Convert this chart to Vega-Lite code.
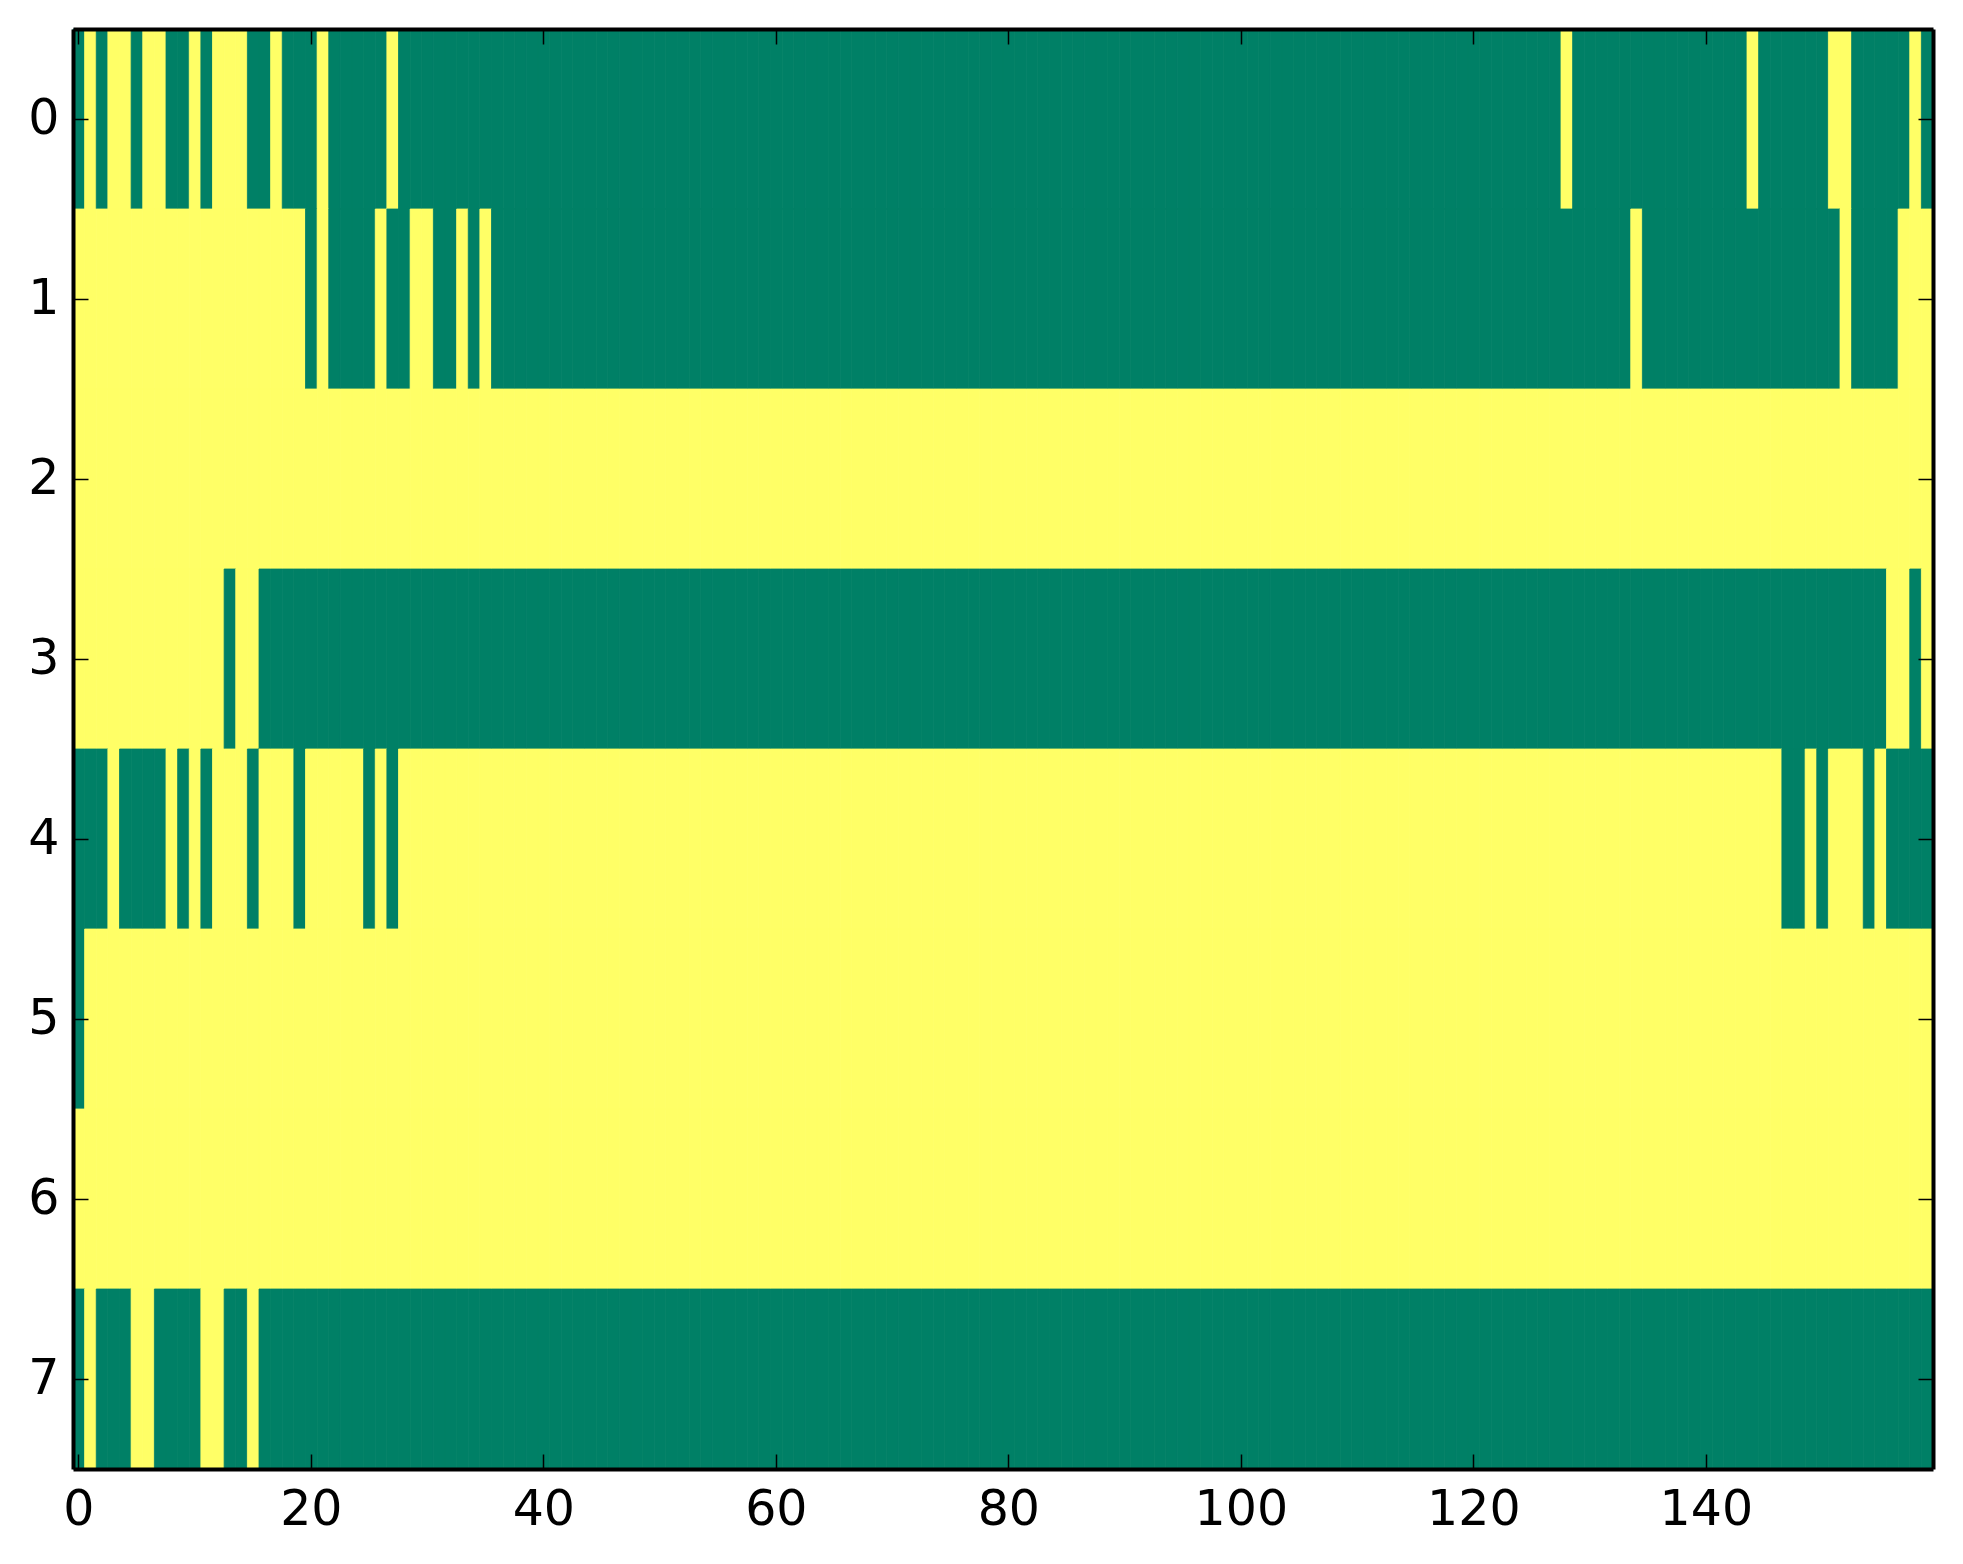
{"$schema":"https://vega.github.io/schema/vega-lite/v6.json","width":1860,"height":1440,"autosize":{"type":"none"},"padding":{"left":73,"top":29,"right":30,"bottom":95},"background":"white","config":{"view":{"stroke":null},"axis":{"grid":false,"labelFont":"DejaVu Sans","labelFontSize":49,"labelColor":"black","title":null}},"data":{"values":[
{"r":0,"c":0,"v":0},{"r":0,"c":1,"v":1},{"r":0,"c":2,"v":0},{"r":0,"c":3,"v":1},{"r":0,"c":4,"v":1},{"r":0,"c":5,"v":0},{"r":0,"c":6,"v":1},{"r":0,"c":7,"v":1},{"r":0,"c":8,"v":0},{"r":0,"c":9,"v":0},
{"r":0,"c":10,"v":1},{"r":0,"c":11,"v":0},{"r":0,"c":12,"v":1},{"r":0,"c":13,"v":1},{"r":0,"c":14,"v":1},{"r":0,"c":15,"v":0},{"r":0,"c":16,"v":0},{"r":0,"c":17,"v":1},{"r":0,"c":18,"v":0},{"r":0,"c":19,"v":0},
{"r":0,"c":20,"v":0},{"r":0,"c":21,"v":1},{"r":0,"c":22,"v":0},{"r":0,"c":23,"v":0},{"r":0,"c":24,"v":0},{"r":0,"c":25,"v":0},{"r":0,"c":26,"v":0},{"r":0,"c":27,"v":1},{"r":0,"c":28,"v":0},{"r":0,"c":29,"v":0},
{"r":0,"c":30,"v":0},{"r":0,"c":31,"v":0},{"r":0,"c":32,"v":0},{"r":0,"c":33,"v":0},{"r":0,"c":34,"v":0},{"r":0,"c":35,"v":0},{"r":0,"c":36,"v":0},{"r":0,"c":37,"v":0},{"r":0,"c":38,"v":0},{"r":0,"c":39,"v":0},
{"r":0,"c":40,"v":0},{"r":0,"c":41,"v":0},{"r":0,"c":42,"v":0},{"r":0,"c":43,"v":0},{"r":0,"c":44,"v":0},{"r":0,"c":45,"v":0},{"r":0,"c":46,"v":0},{"r":0,"c":47,"v":0},{"r":0,"c":48,"v":0},{"r":0,"c":49,"v":0},
{"r":0,"c":50,"v":0},{"r":0,"c":51,"v":0},{"r":0,"c":52,"v":0},{"r":0,"c":53,"v":0},{"r":0,"c":54,"v":0},{"r":0,"c":55,"v":0},{"r":0,"c":56,"v":0},{"r":0,"c":57,"v":0},{"r":0,"c":58,"v":0},{"r":0,"c":59,"v":0},
{"r":0,"c":60,"v":0},{"r":0,"c":61,"v":0},{"r":0,"c":62,"v":0},{"r":0,"c":63,"v":0},{"r":0,"c":64,"v":0},{"r":0,"c":65,"v":0},{"r":0,"c":66,"v":0},{"r":0,"c":67,"v":0},{"r":0,"c":68,"v":0},{"r":0,"c":69,"v":0},
{"r":0,"c":70,"v":0},{"r":0,"c":71,"v":0},{"r":0,"c":72,"v":0},{"r":0,"c":73,"v":0},{"r":0,"c":74,"v":0},{"r":0,"c":75,"v":0},{"r":0,"c":76,"v":0},{"r":0,"c":77,"v":0},{"r":0,"c":78,"v":0},{"r":0,"c":79,"v":0},
{"r":0,"c":80,"v":0},{"r":0,"c":81,"v":0},{"r":0,"c":82,"v":0},{"r":0,"c":83,"v":0},{"r":0,"c":84,"v":0},{"r":0,"c":85,"v":0},{"r":0,"c":86,"v":0},{"r":0,"c":87,"v":0},{"r":0,"c":88,"v":0},{"r":0,"c":89,"v":0},
{"r":0,"c":90,"v":0},{"r":0,"c":91,"v":0},{"r":0,"c":92,"v":0},{"r":0,"c":93,"v":0},{"r":0,"c":94,"v":0},{"r":0,"c":95,"v":0},{"r":0,"c":96,"v":0},{"r":0,"c":97,"v":0},{"r":0,"c":98,"v":0},{"r":0,"c":99,"v":0},
{"r":0,"c":100,"v":0},{"r":0,"c":101,"v":0},{"r":0,"c":102,"v":0},{"r":0,"c":103,"v":0},{"r":0,"c":104,"v":0},{"r":0,"c":105,"v":0},{"r":0,"c":106,"v":0},{"r":0,"c":107,"v":0},{"r":0,"c":108,"v":0},{"r":0,"c":109,"v":0},
{"r":0,"c":110,"v":0},{"r":0,"c":111,"v":0},{"r":0,"c":112,"v":0},{"r":0,"c":113,"v":0},{"r":0,"c":114,"v":0},{"r":0,"c":115,"v":0},{"r":0,"c":116,"v":0},{"r":0,"c":117,"v":0},{"r":0,"c":118,"v":0},{"r":0,"c":119,"v":0},
{"r":0,"c":120,"v":0},{"r":0,"c":121,"v":0},{"r":0,"c":122,"v":0},{"r":0,"c":123,"v":0},{"r":0,"c":124,"v":0},{"r":0,"c":125,"v":0},{"r":0,"c":126,"v":0},{"r":0,"c":127,"v":0},{"r":0,"c":128,"v":1},{"r":0,"c":129,"v":0},
{"r":0,"c":130,"v":0},{"r":0,"c":131,"v":0},{"r":0,"c":132,"v":0},{"r":0,"c":133,"v":0},{"r":0,"c":134,"v":0},{"r":0,"c":135,"v":0},{"r":0,"c":136,"v":0},{"r":0,"c":137,"v":0},{"r":0,"c":138,"v":0},{"r":0,"c":139,"v":0},
{"r":0,"c":140,"v":0},{"r":0,"c":141,"v":0},{"r":0,"c":142,"v":0},{"r":0,"c":143,"v":0},{"r":0,"c":144,"v":1},{"r":0,"c":145,"v":0},{"r":0,"c":146,"v":0},{"r":0,"c":147,"v":0},{"r":0,"c":148,"v":0},{"r":0,"c":149,"v":0},
{"r":0,"c":150,"v":0},{"r":0,"c":151,"v":1},{"r":0,"c":152,"v":1},{"r":0,"c":153,"v":0},{"r":0,"c":154,"v":0},{"r":0,"c":155,"v":0},{"r":0,"c":156,"v":0},{"r":0,"c":157,"v":0},{"r":0,"c":158,"v":1},{"r":0,"c":159,"v":0},
{"r":1,"c":0,"v":1},{"r":1,"c":1,"v":1},{"r":1,"c":2,"v":1},{"r":1,"c":3,"v":1},{"r":1,"c":4,"v":1},{"r":1,"c":5,"v":1},{"r":1,"c":6,"v":1},{"r":1,"c":7,"v":1},{"r":1,"c":8,"v":1},{"r":1,"c":9,"v":1},
{"r":1,"c":10,"v":1},{"r":1,"c":11,"v":1},{"r":1,"c":12,"v":1},{"r":1,"c":13,"v":1},{"r":1,"c":14,"v":1},{"r":1,"c":15,"v":1},{"r":1,"c":16,"v":1},{"r":1,"c":17,"v":1},{"r":1,"c":18,"v":1},{"r":1,"c":19,"v":1},
{"r":1,"c":20,"v":0},{"r":1,"c":21,"v":1},{"r":1,"c":22,"v":0},{"r":1,"c":23,"v":0},{"r":1,"c":24,"v":0},{"r":1,"c":25,"v":0},{"r":1,"c":26,"v":1},{"r":1,"c":27,"v":0},{"r":1,"c":28,"v":0},{"r":1,"c":29,"v":1},
{"r":1,"c":30,"v":1},{"r":1,"c":31,"v":0},{"r":1,"c":32,"v":0},{"r":1,"c":33,"v":1},{"r":1,"c":34,"v":0},{"r":1,"c":35,"v":1},{"r":1,"c":36,"v":0},{"r":1,"c":37,"v":0},{"r":1,"c":38,"v":0},{"r":1,"c":39,"v":0},
{"r":1,"c":40,"v":0},{"r":1,"c":41,"v":0},{"r":1,"c":42,"v":0},{"r":1,"c":43,"v":0},{"r":1,"c":44,"v":0},{"r":1,"c":45,"v":0},{"r":1,"c":46,"v":0},{"r":1,"c":47,"v":0},{"r":1,"c":48,"v":0},{"r":1,"c":49,"v":0},
{"r":1,"c":50,"v":0},{"r":1,"c":51,"v":0},{"r":1,"c":52,"v":0},{"r":1,"c":53,"v":0},{"r":1,"c":54,"v":0},{"r":1,"c":55,"v":0},{"r":1,"c":56,"v":0},{"r":1,"c":57,"v":0},{"r":1,"c":58,"v":0},{"r":1,"c":59,"v":0},
{"r":1,"c":60,"v":0},{"r":1,"c":61,"v":0},{"r":1,"c":62,"v":0},{"r":1,"c":63,"v":0},{"r":1,"c":64,"v":0},{"r":1,"c":65,"v":0},{"r":1,"c":66,"v":0},{"r":1,"c":67,"v":0},{"r":1,"c":68,"v":0},{"r":1,"c":69,"v":0},
{"r":1,"c":70,"v":0},{"r":1,"c":71,"v":0},{"r":1,"c":72,"v":0},{"r":1,"c":73,"v":0},{"r":1,"c":74,"v":0},{"r":1,"c":75,"v":0},{"r":1,"c":76,"v":0},{"r":1,"c":77,"v":0},{"r":1,"c":78,"v":0},{"r":1,"c":79,"v":0},
{"r":1,"c":80,"v":0},{"r":1,"c":81,"v":0},{"r":1,"c":82,"v":0},{"r":1,"c":83,"v":0},{"r":1,"c":84,"v":0},{"r":1,"c":85,"v":0},{"r":1,"c":86,"v":0},{"r":1,"c":87,"v":0},{"r":1,"c":88,"v":0},{"r":1,"c":89,"v":0},
{"r":1,"c":90,"v":0},{"r":1,"c":91,"v":0},{"r":1,"c":92,"v":0},{"r":1,"c":93,"v":0},{"r":1,"c":94,"v":0},{"r":1,"c":95,"v":0},{"r":1,"c":96,"v":0},{"r":1,"c":97,"v":0},{"r":1,"c":98,"v":0},{"r":1,"c":99,"v":0},
{"r":1,"c":100,"v":0},{"r":1,"c":101,"v":0},{"r":1,"c":102,"v":0},{"r":1,"c":103,"v":0},{"r":1,"c":104,"v":0},{"r":1,"c":105,"v":0},{"r":1,"c":106,"v":0},{"r":1,"c":107,"v":0},{"r":1,"c":108,"v":0},{"r":1,"c":109,"v":0},
{"r":1,"c":110,"v":0},{"r":1,"c":111,"v":0},{"r":1,"c":112,"v":0},{"r":1,"c":113,"v":0},{"r":1,"c":114,"v":0},{"r":1,"c":115,"v":0},{"r":1,"c":116,"v":0},{"r":1,"c":117,"v":0},{"r":1,"c":118,"v":0},{"r":1,"c":119,"v":0},
{"r":1,"c":120,"v":0},{"r":1,"c":121,"v":0},{"r":1,"c":122,"v":0},{"r":1,"c":123,"v":0},{"r":1,"c":124,"v":0},{"r":1,"c":125,"v":0},{"r":1,"c":126,"v":0},{"r":1,"c":127,"v":0},{"r":1,"c":128,"v":0},{"r":1,"c":129,"v":0},
{"r":1,"c":130,"v":0},{"r":1,"c":131,"v":0},{"r":1,"c":132,"v":0},{"r":1,"c":133,"v":0},{"r":1,"c":134,"v":1},{"r":1,"c":135,"v":0},{"r":1,"c":136,"v":0},{"r":1,"c":137,"v":0},{"r":1,"c":138,"v":0},{"r":1,"c":139,"v":0},
{"r":1,"c":140,"v":0},{"r":1,"c":141,"v":0},{"r":1,"c":142,"v":0},{"r":1,"c":143,"v":0},{"r":1,"c":144,"v":0},{"r":1,"c":145,"v":0},{"r":1,"c":146,"v":0},{"r":1,"c":147,"v":0},{"r":1,"c":148,"v":0},{"r":1,"c":149,"v":0},
{"r":1,"c":150,"v":0},{"r":1,"c":151,"v":0},{"r":1,"c":152,"v":1},{"r":1,"c":153,"v":0},{"r":1,"c":154,"v":0},{"r":1,"c":155,"v":0},{"r":1,"c":156,"v":0},{"r":1,"c":157,"v":1},{"r":1,"c":158,"v":1},{"r":1,"c":159,"v":1},
{"r":2,"c":0,"v":1},{"r":2,"c":1,"v":1},{"r":2,"c":2,"v":1},{"r":2,"c":3,"v":1},{"r":2,"c":4,"v":1},{"r":2,"c":5,"v":1},{"r":2,"c":6,"v":1},{"r":2,"c":7,"v":1},{"r":2,"c":8,"v":1},{"r":2,"c":9,"v":1},
{"r":2,"c":10,"v":1},{"r":2,"c":11,"v":1},{"r":2,"c":12,"v":1},{"r":2,"c":13,"v":1},{"r":2,"c":14,"v":1},{"r":2,"c":15,"v":1},{"r":2,"c":16,"v":1},{"r":2,"c":17,"v":1},{"r":2,"c":18,"v":1},{"r":2,"c":19,"v":1},
{"r":2,"c":20,"v":1},{"r":2,"c":21,"v":1},{"r":2,"c":22,"v":1},{"r":2,"c":23,"v":1},{"r":2,"c":24,"v":1},{"r":2,"c":25,"v":1},{"r":2,"c":26,"v":1},{"r":2,"c":27,"v":1},{"r":2,"c":28,"v":1},{"r":2,"c":29,"v":1},
{"r":2,"c":30,"v":1},{"r":2,"c":31,"v":1},{"r":2,"c":32,"v":1},{"r":2,"c":33,"v":1},{"r":2,"c":34,"v":1},{"r":2,"c":35,"v":1},{"r":2,"c":36,"v":1},{"r":2,"c":37,"v":1},{"r":2,"c":38,"v":1},{"r":2,"c":39,"v":1},
{"r":2,"c":40,"v":1},{"r":2,"c":41,"v":1},{"r":2,"c":42,"v":1},{"r":2,"c":43,"v":1},{"r":2,"c":44,"v":1},{"r":2,"c":45,"v":1},{"r":2,"c":46,"v":1},{"r":2,"c":47,"v":1},{"r":2,"c":48,"v":1},{"r":2,"c":49,"v":1},
{"r":2,"c":50,"v":1},{"r":2,"c":51,"v":1},{"r":2,"c":52,"v":1},{"r":2,"c":53,"v":1},{"r":2,"c":54,"v":1},{"r":2,"c":55,"v":1},{"r":2,"c":56,"v":1},{"r":2,"c":57,"v":1},{"r":2,"c":58,"v":1},{"r":2,"c":59,"v":1},
{"r":2,"c":60,"v":1},{"r":2,"c":61,"v":1},{"r":2,"c":62,"v":1},{"r":2,"c":63,"v":1},{"r":2,"c":64,"v":1},{"r":2,"c":65,"v":1},{"r":2,"c":66,"v":1},{"r":2,"c":67,"v":1},{"r":2,"c":68,"v":1},{"r":2,"c":69,"v":1},
{"r":2,"c":70,"v":1},{"r":2,"c":71,"v":1},{"r":2,"c":72,"v":1},{"r":2,"c":73,"v":1},{"r":2,"c":74,"v":1},{"r":2,"c":75,"v":1},{"r":2,"c":76,"v":1},{"r":2,"c":77,"v":1},{"r":2,"c":78,"v":1},{"r":2,"c":79,"v":1},
{"r":2,"c":80,"v":1},{"r":2,"c":81,"v":1},{"r":2,"c":82,"v":1},{"r":2,"c":83,"v":1},{"r":2,"c":84,"v":1},{"r":2,"c":85,"v":1},{"r":2,"c":86,"v":1},{"r":2,"c":87,"v":1},{"r":2,"c":88,"v":1},{"r":2,"c":89,"v":1},
{"r":2,"c":90,"v":1},{"r":2,"c":91,"v":1},{"r":2,"c":92,"v":1},{"r":2,"c":93,"v":1},{"r":2,"c":94,"v":1},{"r":2,"c":95,"v":1},{"r":2,"c":96,"v":1},{"r":2,"c":97,"v":1},{"r":2,"c":98,"v":1},{"r":2,"c":99,"v":1},
{"r":2,"c":100,"v":1},{"r":2,"c":101,"v":1},{"r":2,"c":102,"v":1},{"r":2,"c":103,"v":1},{"r":2,"c":104,"v":1},{"r":2,"c":105,"v":1},{"r":2,"c":106,"v":1},{"r":2,"c":107,"v":1},{"r":2,"c":108,"v":1},{"r":2,"c":109,"v":1},
{"r":2,"c":110,"v":1},{"r":2,"c":111,"v":1},{"r":2,"c":112,"v":1},{"r":2,"c":113,"v":1},{"r":2,"c":114,"v":1},{"r":2,"c":115,"v":1},{"r":2,"c":116,"v":1},{"r":2,"c":117,"v":1},{"r":2,"c":118,"v":1},{"r":2,"c":119,"v":1},
{"r":2,"c":120,"v":1},{"r":2,"c":121,"v":1},{"r":2,"c":122,"v":1},{"r":2,"c":123,"v":1},{"r":2,"c":124,"v":1},{"r":2,"c":125,"v":1},{"r":2,"c":126,"v":1},{"r":2,"c":127,"v":1},{"r":2,"c":128,"v":1},{"r":2,"c":129,"v":1},
{"r":2,"c":130,"v":1},{"r":2,"c":131,"v":1},{"r":2,"c":132,"v":1},{"r":2,"c":133,"v":1},{"r":2,"c":134,"v":1},{"r":2,"c":135,"v":1},{"r":2,"c":136,"v":1},{"r":2,"c":137,"v":1},{"r":2,"c":138,"v":1},{"r":2,"c":139,"v":1},
{"r":2,"c":140,"v":1},{"r":2,"c":141,"v":1},{"r":2,"c":142,"v":1},{"r":2,"c":143,"v":1},{"r":2,"c":144,"v":1},{"r":2,"c":145,"v":1},{"r":2,"c":146,"v":1},{"r":2,"c":147,"v":1},{"r":2,"c":148,"v":1},{"r":2,"c":149,"v":1},
{"r":2,"c":150,"v":1},{"r":2,"c":151,"v":1},{"r":2,"c":152,"v":1},{"r":2,"c":153,"v":1},{"r":2,"c":154,"v":1},{"r":2,"c":155,"v":1},{"r":2,"c":156,"v":1},{"r":2,"c":157,"v":1},{"r":2,"c":158,"v":1},{"r":2,"c":159,"v":1},
{"r":3,"c":0,"v":1},{"r":3,"c":1,"v":1},{"r":3,"c":2,"v":1},{"r":3,"c":3,"v":1},{"r":3,"c":4,"v":1},{"r":3,"c":5,"v":1},{"r":3,"c":6,"v":1},{"r":3,"c":7,"v":1},{"r":3,"c":8,"v":1},{"r":3,"c":9,"v":1},
{"r":3,"c":10,"v":1},{"r":3,"c":11,"v":1},{"r":3,"c":12,"v":1},{"r":3,"c":13,"v":0},{"r":3,"c":14,"v":1},{"r":3,"c":15,"v":1},{"r":3,"c":16,"v":0},{"r":3,"c":17,"v":0},{"r":3,"c":18,"v":0},{"r":3,"c":19,"v":0},
{"r":3,"c":20,"v":0},{"r":3,"c":21,"v":0},{"r":3,"c":22,"v":0},{"r":3,"c":23,"v":0},{"r":3,"c":24,"v":0},{"r":3,"c":25,"v":0},{"r":3,"c":26,"v":0},{"r":3,"c":27,"v":0},{"r":3,"c":28,"v":0},{"r":3,"c":29,"v":0},
{"r":3,"c":30,"v":0},{"r":3,"c":31,"v":0},{"r":3,"c":32,"v":0},{"r":3,"c":33,"v":0},{"r":3,"c":34,"v":0},{"r":3,"c":35,"v":0},{"r":3,"c":36,"v":0},{"r":3,"c":37,"v":0},{"r":3,"c":38,"v":0},{"r":3,"c":39,"v":0},
{"r":3,"c":40,"v":0},{"r":3,"c":41,"v":0},{"r":3,"c":42,"v":0},{"r":3,"c":43,"v":0},{"r":3,"c":44,"v":0},{"r":3,"c":45,"v":0},{"r":3,"c":46,"v":0},{"r":3,"c":47,"v":0},{"r":3,"c":48,"v":0},{"r":3,"c":49,"v":0},
{"r":3,"c":50,"v":0},{"r":3,"c":51,"v":0},{"r":3,"c":52,"v":0},{"r":3,"c":53,"v":0},{"r":3,"c":54,"v":0},{"r":3,"c":55,"v":0},{"r":3,"c":56,"v":0},{"r":3,"c":57,"v":0},{"r":3,"c":58,"v":0},{"r":3,"c":59,"v":0},
{"r":3,"c":60,"v":0},{"r":3,"c":61,"v":0},{"r":3,"c":62,"v":0},{"r":3,"c":63,"v":0},{"r":3,"c":64,"v":0},{"r":3,"c":65,"v":0},{"r":3,"c":66,"v":0},{"r":3,"c":67,"v":0},{"r":3,"c":68,"v":0},{"r":3,"c":69,"v":0},
{"r":3,"c":70,"v":0},{"r":3,"c":71,"v":0},{"r":3,"c":72,"v":0},{"r":3,"c":73,"v":0},{"r":3,"c":74,"v":0},{"r":3,"c":75,"v":0},{"r":3,"c":76,"v":0},{"r":3,"c":77,"v":0},{"r":3,"c":78,"v":0},{"r":3,"c":79,"v":0},
{"r":3,"c":80,"v":0},{"r":3,"c":81,"v":0},{"r":3,"c":82,"v":0},{"r":3,"c":83,"v":0},{"r":3,"c":84,"v":0},{"r":3,"c":85,"v":0},{"r":3,"c":86,"v":0},{"r":3,"c":87,"v":0},{"r":3,"c":88,"v":0},{"r":3,"c":89,"v":0},
{"r":3,"c":90,"v":0},{"r":3,"c":91,"v":0},{"r":3,"c":92,"v":0},{"r":3,"c":93,"v":0},{"r":3,"c":94,"v":0},{"r":3,"c":95,"v":0},{"r":3,"c":96,"v":0},{"r":3,"c":97,"v":0},{"r":3,"c":98,"v":0},{"r":3,"c":99,"v":0},
{"r":3,"c":100,"v":0},{"r":3,"c":101,"v":0},{"r":3,"c":102,"v":0},{"r":3,"c":103,"v":0},{"r":3,"c":104,"v":0},{"r":3,"c":105,"v":0},{"r":3,"c":106,"v":0},{"r":3,"c":107,"v":0},{"r":3,"c":108,"v":0},{"r":3,"c":109,"v":0},
{"r":3,"c":110,"v":0},{"r":3,"c":111,"v":0},{"r":3,"c":112,"v":0},{"r":3,"c":113,"v":0},{"r":3,"c":114,"v":0},{"r":3,"c":115,"v":0},{"r":3,"c":116,"v":0},{"r":3,"c":117,"v":0},{"r":3,"c":118,"v":0},{"r":3,"c":119,"v":0},
{"r":3,"c":120,"v":0},{"r":3,"c":121,"v":0},{"r":3,"c":122,"v":0},{"r":3,"c":123,"v":0},{"r":3,"c":124,"v":0},{"r":3,"c":125,"v":0},{"r":3,"c":126,"v":0},{"r":3,"c":127,"v":0},{"r":3,"c":128,"v":0},{"r":3,"c":129,"v":0},
{"r":3,"c":130,"v":0},{"r":3,"c":131,"v":0},{"r":3,"c":132,"v":0},{"r":3,"c":133,"v":0},{"r":3,"c":134,"v":0},{"r":3,"c":135,"v":0},{"r":3,"c":136,"v":0},{"r":3,"c":137,"v":0},{"r":3,"c":138,"v":0},{"r":3,"c":139,"v":0},
{"r":3,"c":140,"v":0},{"r":3,"c":141,"v":0},{"r":3,"c":142,"v":0},{"r":3,"c":143,"v":0},{"r":3,"c":144,"v":0},{"r":3,"c":145,"v":0},{"r":3,"c":146,"v":0},{"r":3,"c":147,"v":0},{"r":3,"c":148,"v":0},{"r":3,"c":149,"v":0},
{"r":3,"c":150,"v":0},{"r":3,"c":151,"v":0},{"r":3,"c":152,"v":0},{"r":3,"c":153,"v":0},{"r":3,"c":154,"v":0},{"r":3,"c":155,"v":0},{"r":3,"c":156,"v":1},{"r":3,"c":157,"v":1},{"r":3,"c":158,"v":0},{"r":3,"c":159,"v":1},
{"r":4,"c":0,"v":0},{"r":4,"c":1,"v":0},{"r":4,"c":2,"v":0},{"r":4,"c":3,"v":1},{"r":4,"c":4,"v":0},{"r":4,"c":5,"v":0},{"r":4,"c":6,"v":0},{"r":4,"c":7,"v":0},{"r":4,"c":8,"v":1},{"r":4,"c":9,"v":0},
{"r":4,"c":10,"v":1},{"r":4,"c":11,"v":0},{"r":4,"c":12,"v":1},{"r":4,"c":13,"v":1},{"r":4,"c":14,"v":1},{"r":4,"c":15,"v":0},{"r":4,"c":16,"v":1},{"r":4,"c":17,"v":1},{"r":4,"c":18,"v":1},{"r":4,"c":19,"v":0},
{"r":4,"c":20,"v":1},{"r":4,"c":21,"v":1},{"r":4,"c":22,"v":1},{"r":4,"c":23,"v":1},{"r":4,"c":24,"v":1},{"r":4,"c":25,"v":0},{"r":4,"c":26,"v":1},{"r":4,"c":27,"v":0},{"r":4,"c":28,"v":1},{"r":4,"c":29,"v":1},
{"r":4,"c":30,"v":1},{"r":4,"c":31,"v":1},{"r":4,"c":32,"v":1},{"r":4,"c":33,"v":1},{"r":4,"c":34,"v":1},{"r":4,"c":35,"v":1},{"r":4,"c":36,"v":1},{"r":4,"c":37,"v":1},{"r":4,"c":38,"v":1},{"r":4,"c":39,"v":1},
{"r":4,"c":40,"v":1},{"r":4,"c":41,"v":1},{"r":4,"c":42,"v":1},{"r":4,"c":43,"v":1},{"r":4,"c":44,"v":1},{"r":4,"c":45,"v":1},{"r":4,"c":46,"v":1},{"r":4,"c":47,"v":1},{"r":4,"c":48,"v":1},{"r":4,"c":49,"v":1},
{"r":4,"c":50,"v":1},{"r":4,"c":51,"v":1},{"r":4,"c":52,"v":1},{"r":4,"c":53,"v":1},{"r":4,"c":54,"v":1},{"r":4,"c":55,"v":1},{"r":4,"c":56,"v":1},{"r":4,"c":57,"v":1},{"r":4,"c":58,"v":1},{"r":4,"c":59,"v":1},
{"r":4,"c":60,"v":1},{"r":4,"c":61,"v":1},{"r":4,"c":62,"v":1},{"r":4,"c":63,"v":1},{"r":4,"c":64,"v":1},{"r":4,"c":65,"v":1},{"r":4,"c":66,"v":1},{"r":4,"c":67,"v":1},{"r":4,"c":68,"v":1},{"r":4,"c":69,"v":1},
{"r":4,"c":70,"v":1},{"r":4,"c":71,"v":1},{"r":4,"c":72,"v":1},{"r":4,"c":73,"v":1},{"r":4,"c":74,"v":1},{"r":4,"c":75,"v":1},{"r":4,"c":76,"v":1},{"r":4,"c":77,"v":1},{"r":4,"c":78,"v":1},{"r":4,"c":79,"v":1},
{"r":4,"c":80,"v":1},{"r":4,"c":81,"v":1},{"r":4,"c":82,"v":1},{"r":4,"c":83,"v":1},{"r":4,"c":84,"v":1},{"r":4,"c":85,"v":1},{"r":4,"c":86,"v":1},{"r":4,"c":87,"v":1},{"r":4,"c":88,"v":1},{"r":4,"c":89,"v":1},
{"r":4,"c":90,"v":1},{"r":4,"c":91,"v":1},{"r":4,"c":92,"v":1},{"r":4,"c":93,"v":1},{"r":4,"c":94,"v":1},{"r":4,"c":95,"v":1},{"r":4,"c":96,"v":1},{"r":4,"c":97,"v":1},{"r":4,"c":98,"v":1},{"r":4,"c":99,"v":1},
{"r":4,"c":100,"v":1},{"r":4,"c":101,"v":1},{"r":4,"c":102,"v":1},{"r":4,"c":103,"v":1},{"r":4,"c":104,"v":1},{"r":4,"c":105,"v":1},{"r":4,"c":106,"v":1},{"r":4,"c":107,"v":1},{"r":4,"c":108,"v":1},{"r":4,"c":109,"v":1},
{"r":4,"c":110,"v":1},{"r":4,"c":111,"v":1},{"r":4,"c":112,"v":1},{"r":4,"c":113,"v":1},{"r":4,"c":114,"v":1},{"r":4,"c":115,"v":1},{"r":4,"c":116,"v":1},{"r":4,"c":117,"v":1},{"r":4,"c":118,"v":1},{"r":4,"c":119,"v":1},
{"r":4,"c":120,"v":1},{"r":4,"c":121,"v":1},{"r":4,"c":122,"v":1},{"r":4,"c":123,"v":1},{"r":4,"c":124,"v":1},{"r":4,"c":125,"v":1},{"r":4,"c":126,"v":1},{"r":4,"c":127,"v":1},{"r":4,"c":128,"v":1},{"r":4,"c":129,"v":1},
{"r":4,"c":130,"v":1},{"r":4,"c":131,"v":1},{"r":4,"c":132,"v":1},{"r":4,"c":133,"v":1},{"r":4,"c":134,"v":1},{"r":4,"c":135,"v":1},{"r":4,"c":136,"v":1},{"r":4,"c":137,"v":1},{"r":4,"c":138,"v":1},{"r":4,"c":139,"v":1},
{"r":4,"c":140,"v":1},{"r":4,"c":141,"v":1},{"r":4,"c":142,"v":1},{"r":4,"c":143,"v":1},{"r":4,"c":144,"v":1},{"r":4,"c":145,"v":1},{"r":4,"c":146,"v":1},{"r":4,"c":147,"v":0},{"r":4,"c":148,"v":0},{"r":4,"c":149,"v":1},
{"r":4,"c":150,"v":0},{"r":4,"c":151,"v":1},{"r":4,"c":152,"v":1},{"r":4,"c":153,"v":1},{"r":4,"c":154,"v":0},{"r":4,"c":155,"v":1},{"r":4,"c":156,"v":0},{"r":4,"c":157,"v":0},{"r":4,"c":158,"v":0},{"r":4,"c":159,"v":0},
{"r":5,"c":0,"v":0},{"r":5,"c":1,"v":1},{"r":5,"c":2,"v":1},{"r":5,"c":3,"v":1},{"r":5,"c":4,"v":1},{"r":5,"c":5,"v":1},{"r":5,"c":6,"v":1},{"r":5,"c":7,"v":1},{"r":5,"c":8,"v":1},{"r":5,"c":9,"v":1},
{"r":5,"c":10,"v":1},{"r":5,"c":11,"v":1},{"r":5,"c":12,"v":1},{"r":5,"c":13,"v":1},{"r":5,"c":14,"v":1},{"r":5,"c":15,"v":1},{"r":5,"c":16,"v":1},{"r":5,"c":17,"v":1},{"r":5,"c":18,"v":1},{"r":5,"c":19,"v":1},
{"r":5,"c":20,"v":1},{"r":5,"c":21,"v":1},{"r":5,"c":22,"v":1},{"r":5,"c":23,"v":1},{"r":5,"c":24,"v":1},{"r":5,"c":25,"v":1},{"r":5,"c":26,"v":1},{"r":5,"c":27,"v":1},{"r":5,"c":28,"v":1},{"r":5,"c":29,"v":1},
{"r":5,"c":30,"v":1},{"r":5,"c":31,"v":1},{"r":5,"c":32,"v":1},{"r":5,"c":33,"v":1},{"r":5,"c":34,"v":1},{"r":5,"c":35,"v":1},{"r":5,"c":36,"v":1},{"r":5,"c":37,"v":1},{"r":5,"c":38,"v":1},{"r":5,"c":39,"v":1},
{"r":5,"c":40,"v":1},{"r":5,"c":41,"v":1},{"r":5,"c":42,"v":1},{"r":5,"c":43,"v":1},{"r":5,"c":44,"v":1},{"r":5,"c":45,"v":1},{"r":5,"c":46,"v":1},{"r":5,"c":47,"v":1},{"r":5,"c":48,"v":1},{"r":5,"c":49,"v":1},
{"r":5,"c":50,"v":1},{"r":5,"c":51,"v":1},{"r":5,"c":52,"v":1},{"r":5,"c":53,"v":1},{"r":5,"c":54,"v":1},{"r":5,"c":55,"v":1},{"r":5,"c":56,"v":1},{"r":5,"c":57,"v":1},{"r":5,"c":58,"v":1},{"r":5,"c":59,"v":1},
{"r":5,"c":60,"v":1},{"r":5,"c":61,"v":1},{"r":5,"c":62,"v":1},{"r":5,"c":63,"v":1},{"r":5,"c":64,"v":1},{"r":5,"c":65,"v":1},{"r":5,"c":66,"v":1},{"r":5,"c":67,"v":1},{"r":5,"c":68,"v":1},{"r":5,"c":69,"v":1},
{"r":5,"c":70,"v":1},{"r":5,"c":71,"v":1},{"r":5,"c":72,"v":1},{"r":5,"c":73,"v":1},{"r":5,"c":74,"v":1},{"r":5,"c":75,"v":1},{"r":5,"c":76,"v":1},{"r":5,"c":77,"v":1},{"r":5,"c":78,"v":1},{"r":5,"c":79,"v":1},
{"r":5,"c":80,"v":1},{"r":5,"c":81,"v":1},{"r":5,"c":82,"v":1},{"r":5,"c":83,"v":1},{"r":5,"c":84,"v":1},{"r":5,"c":85,"v":1},{"r":5,"c":86,"v":1},{"r":5,"c":87,"v":1},{"r":5,"c":88,"v":1},{"r":5,"c":89,"v":1},
{"r":5,"c":90,"v":1},{"r":5,"c":91,"v":1},{"r":5,"c":92,"v":1},{"r":5,"c":93,"v":1},{"r":5,"c":94,"v":1},{"r":5,"c":95,"v":1},{"r":5,"c":96,"v":1},{"r":5,"c":97,"v":1},{"r":5,"c":98,"v":1},{"r":5,"c":99,"v":1},
{"r":5,"c":100,"v":1},{"r":5,"c":101,"v":1},{"r":5,"c":102,"v":1},{"r":5,"c":103,"v":1},{"r":5,"c":104,"v":1},{"r":5,"c":105,"v":1},{"r":5,"c":106,"v":1},{"r":5,"c":107,"v":1},{"r":5,"c":108,"v":1},{"r":5,"c":109,"v":1},
{"r":5,"c":110,"v":1},{"r":5,"c":111,"v":1},{"r":5,"c":112,"v":1},{"r":5,"c":113,"v":1},{"r":5,"c":114,"v":1},{"r":5,"c":115,"v":1},{"r":5,"c":116,"v":1},{"r":5,"c":117,"v":1},{"r":5,"c":118,"v":1},{"r":5,"c":119,"v":1},
{"r":5,"c":120,"v":1},{"r":5,"c":121,"v":1},{"r":5,"c":122,"v":1},{"r":5,"c":123,"v":1},{"r":5,"c":124,"v":1},{"r":5,"c":125,"v":1},{"r":5,"c":126,"v":1},{"r":5,"c":127,"v":1},{"r":5,"c":128,"v":1},{"r":5,"c":129,"v":1},
{"r":5,"c":130,"v":1},{"r":5,"c":131,"v":1},{"r":5,"c":132,"v":1},{"r":5,"c":133,"v":1},{"r":5,"c":134,"v":1},{"r":5,"c":135,"v":1},{"r":5,"c":136,"v":1},{"r":5,"c":137,"v":1},{"r":5,"c":138,"v":1},{"r":5,"c":139,"v":1},
{"r":5,"c":140,"v":1},{"r":5,"c":141,"v":1},{"r":5,"c":142,"v":1},{"r":5,"c":143,"v":1},{"r":5,"c":144,"v":1},{"r":5,"c":145,"v":1},{"r":5,"c":146,"v":1},{"r":5,"c":147,"v":1},{"r":5,"c":148,"v":1},{"r":5,"c":149,"v":1},
{"r":5,"c":150,"v":1},{"r":5,"c":151,"v":1},{"r":5,"c":152,"v":1},{"r":5,"c":153,"v":1},{"r":5,"c":154,"v":1},{"r":5,"c":155,"v":1},{"r":5,"c":156,"v":1},{"r":5,"c":157,"v":1},{"r":5,"c":158,"v":1},{"r":5,"c":159,"v":1},
{"r":6,"c":0,"v":1},{"r":6,"c":1,"v":1},{"r":6,"c":2,"v":1},{"r":6,"c":3,"v":1},{"r":6,"c":4,"v":1},{"r":6,"c":5,"v":1},{"r":6,"c":6,"v":1},{"r":6,"c":7,"v":1},{"r":6,"c":8,"v":1},{"r":6,"c":9,"v":1},
{"r":6,"c":10,"v":1},{"r":6,"c":11,"v":1},{"r":6,"c":12,"v":1},{"r":6,"c":13,"v":1},{"r":6,"c":14,"v":1},{"r":6,"c":15,"v":1},{"r":6,"c":16,"v":1},{"r":6,"c":17,"v":1},{"r":6,"c":18,"v":1},{"r":6,"c":19,"v":1},
{"r":6,"c":20,"v":1},{"r":6,"c":21,"v":1},{"r":6,"c":22,"v":1},{"r":6,"c":23,"v":1},{"r":6,"c":24,"v":1},{"r":6,"c":25,"v":1},{"r":6,"c":26,"v":1},{"r":6,"c":27,"v":1},{"r":6,"c":28,"v":1},{"r":6,"c":29,"v":1},
{"r":6,"c":30,"v":1},{"r":6,"c":31,"v":1},{"r":6,"c":32,"v":1},{"r":6,"c":33,"v":1},{"r":6,"c":34,"v":1},{"r":6,"c":35,"v":1},{"r":6,"c":36,"v":1},{"r":6,"c":37,"v":1},{"r":6,"c":38,"v":1},{"r":6,"c":39,"v":1},
{"r":6,"c":40,"v":1},{"r":6,"c":41,"v":1},{"r":6,"c":42,"v":1},{"r":6,"c":43,"v":1},{"r":6,"c":44,"v":1},{"r":6,"c":45,"v":1},{"r":6,"c":46,"v":1},{"r":6,"c":47,"v":1},{"r":6,"c":48,"v":1},{"r":6,"c":49,"v":1},
{"r":6,"c":50,"v":1},{"r":6,"c":51,"v":1},{"r":6,"c":52,"v":1},{"r":6,"c":53,"v":1},{"r":6,"c":54,"v":1},{"r":6,"c":55,"v":1},{"r":6,"c":56,"v":1},{"r":6,"c":57,"v":1},{"r":6,"c":58,"v":1},{"r":6,"c":59,"v":1},
{"r":6,"c":60,"v":1},{"r":6,"c":61,"v":1},{"r":6,"c":62,"v":1},{"r":6,"c":63,"v":1},{"r":6,"c":64,"v":1},{"r":6,"c":65,"v":1},{"r":6,"c":66,"v":1},{"r":6,"c":67,"v":1},{"r":6,"c":68,"v":1},{"r":6,"c":69,"v":1},
{"r":6,"c":70,"v":1},{"r":6,"c":71,"v":1},{"r":6,"c":72,"v":1},{"r":6,"c":73,"v":1},{"r":6,"c":74,"v":1},{"r":6,"c":75,"v":1},{"r":6,"c":76,"v":1},{"r":6,"c":77,"v":1},{"r":6,"c":78,"v":1},{"r":6,"c":79,"v":1},
{"r":6,"c":80,"v":1},{"r":6,"c":81,"v":1},{"r":6,"c":82,"v":1},{"r":6,"c":83,"v":1},{"r":6,"c":84,"v":1},{"r":6,"c":85,"v":1},{"r":6,"c":86,"v":1},{"r":6,"c":87,"v":1},{"r":6,"c":88,"v":1},{"r":6,"c":89,"v":1},
{"r":6,"c":90,"v":1},{"r":6,"c":91,"v":1},{"r":6,"c":92,"v":1},{"r":6,"c":93,"v":1},{"r":6,"c":94,"v":1},{"r":6,"c":95,"v":1},{"r":6,"c":96,"v":1},{"r":6,"c":97,"v":1},{"r":6,"c":98,"v":1},{"r":6,"c":99,"v":1},
{"r":6,"c":100,"v":1},{"r":6,"c":101,"v":1},{"r":6,"c":102,"v":1},{"r":6,"c":103,"v":1},{"r":6,"c":104,"v":1},{"r":6,"c":105,"v":1},{"r":6,"c":106,"v":1},{"r":6,"c":107,"v":1},{"r":6,"c":108,"v":1},{"r":6,"c":109,"v":1},
{"r":6,"c":110,"v":1},{"r":6,"c":111,"v":1},{"r":6,"c":112,"v":1},{"r":6,"c":113,"v":1},{"r":6,"c":114,"v":1},{"r":6,"c":115,"v":1},{"r":6,"c":116,"v":1},{"r":6,"c":117,"v":1},{"r":6,"c":118,"v":1},{"r":6,"c":119,"v":1},
{"r":6,"c":120,"v":1},{"r":6,"c":121,"v":1},{"r":6,"c":122,"v":1},{"r":6,"c":123,"v":1},{"r":6,"c":124,"v":1},{"r":6,"c":125,"v":1},{"r":6,"c":126,"v":1},{"r":6,"c":127,"v":1},{"r":6,"c":128,"v":1},{"r":6,"c":129,"v":1},
{"r":6,"c":130,"v":1},{"r":6,"c":131,"v":1},{"r":6,"c":132,"v":1},{"r":6,"c":133,"v":1},{"r":6,"c":134,"v":1},{"r":6,"c":135,"v":1},{"r":6,"c":136,"v":1},{"r":6,"c":137,"v":1},{"r":6,"c":138,"v":1},{"r":6,"c":139,"v":1},
{"r":6,"c":140,"v":1},{"r":6,"c":141,"v":1},{"r":6,"c":142,"v":1},{"r":6,"c":143,"v":1},{"r":6,"c":144,"v":1},{"r":6,"c":145,"v":1},{"r":6,"c":146,"v":1},{"r":6,"c":147,"v":1},{"r":6,"c":148,"v":1},{"r":6,"c":149,"v":1},
{"r":6,"c":150,"v":1},{"r":6,"c":151,"v":1},{"r":6,"c":152,"v":1},{"r":6,"c":153,"v":1},{"r":6,"c":154,"v":1},{"r":6,"c":155,"v":1},{"r":6,"c":156,"v":1},{"r":6,"c":157,"v":1},{"r":6,"c":158,"v":1},{"r":6,"c":159,"v":1},
{"r":7,"c":0,"v":0},{"r":7,"c":1,"v":1},{"r":7,"c":2,"v":0},{"r":7,"c":3,"v":0},{"r":7,"c":4,"v":0},{"r":7,"c":5,"v":1},{"r":7,"c":6,"v":1},{"r":7,"c":7,"v":0},{"r":7,"c":8,"v":0},{"r":7,"c":9,"v":0},
{"r":7,"c":10,"v":0},{"r":7,"c":11,"v":1},{"r":7,"c":12,"v":1},{"r":7,"c":13,"v":0},{"r":7,"c":14,"v":0},{"r":7,"c":15,"v":1},{"r":7,"c":16,"v":0},{"r":7,"c":17,"v":0},{"r":7,"c":18,"v":0},{"r":7,"c":19,"v":0},
{"r":7,"c":20,"v":0},{"r":7,"c":21,"v":0},{"r":7,"c":22,"v":0},{"r":7,"c":23,"v":0},{"r":7,"c":24,"v":0},{"r":7,"c":25,"v":0},{"r":7,"c":26,"v":0},{"r":7,"c":27,"v":0},{"r":7,"c":28,"v":0},{"r":7,"c":29,"v":0},
{"r":7,"c":30,"v":0},{"r":7,"c":31,"v":0},{"r":7,"c":32,"v":0},{"r":7,"c":33,"v":0},{"r":7,"c":34,"v":0},{"r":7,"c":35,"v":0},{"r":7,"c":36,"v":0},{"r":7,"c":37,"v":0},{"r":7,"c":38,"v":0},{"r":7,"c":39,"v":0},
{"r":7,"c":40,"v":0},{"r":7,"c":41,"v":0},{"r":7,"c":42,"v":0},{"r":7,"c":43,"v":0},{"r":7,"c":44,"v":0},{"r":7,"c":45,"v":0},{"r":7,"c":46,"v":0},{"r":7,"c":47,"v":0},{"r":7,"c":48,"v":0},{"r":7,"c":49,"v":0},
{"r":7,"c":50,"v":0},{"r":7,"c":51,"v":0},{"r":7,"c":52,"v":0},{"r":7,"c":53,"v":0},{"r":7,"c":54,"v":0},{"r":7,"c":55,"v":0},{"r":7,"c":56,"v":0},{"r":7,"c":57,"v":0},{"r":7,"c":58,"v":0},{"r":7,"c":59,"v":0},
{"r":7,"c":60,"v":0},{"r":7,"c":61,"v":0},{"r":7,"c":62,"v":0},{"r":7,"c":63,"v":0},{"r":7,"c":64,"v":0},{"r":7,"c":65,"v":0},{"r":7,"c":66,"v":0},{"r":7,"c":67,"v":0},{"r":7,"c":68,"v":0},{"r":7,"c":69,"v":0},
{"r":7,"c":70,"v":0},{"r":7,"c":71,"v":0},{"r":7,"c":72,"v":0},{"r":7,"c":73,"v":0},{"r":7,"c":74,"v":0},{"r":7,"c":75,"v":0},{"r":7,"c":76,"v":0},{"r":7,"c":77,"v":0},{"r":7,"c":78,"v":0},{"r":7,"c":79,"v":0},
{"r":7,"c":80,"v":0},{"r":7,"c":81,"v":0},{"r":7,"c":82,"v":0},{"r":7,"c":83,"v":0},{"r":7,"c":84,"v":0},{"r":7,"c":85,"v":0},{"r":7,"c":86,"v":0},{"r":7,"c":87,"v":0},{"r":7,"c":88,"v":0},{"r":7,"c":89,"v":0},
{"r":7,"c":90,"v":0},{"r":7,"c":91,"v":0},{"r":7,"c":92,"v":0},{"r":7,"c":93,"v":0},{"r":7,"c":94,"v":0},{"r":7,"c":95,"v":0},{"r":7,"c":96,"v":0},{"r":7,"c":97,"v":0},{"r":7,"c":98,"v":0},{"r":7,"c":99,"v":0},
{"r":7,"c":100,"v":0},{"r":7,"c":101,"v":0},{"r":7,"c":102,"v":0},{"r":7,"c":103,"v":0},{"r":7,"c":104,"v":0},{"r":7,"c":105,"v":0},{"r":7,"c":106,"v":0},{"r":7,"c":107,"v":0},{"r":7,"c":108,"v":0},{"r":7,"c":109,"v":0},
{"r":7,"c":110,"v":0},{"r":7,"c":111,"v":0},{"r":7,"c":112,"v":0},{"r":7,"c":113,"v":0},{"r":7,"c":114,"v":0},{"r":7,"c":115,"v":0},{"r":7,"c":116,"v":0},{"r":7,"c":117,"v":0},{"r":7,"c":118,"v":0},{"r":7,"c":119,"v":0},
{"r":7,"c":120,"v":0},{"r":7,"c":121,"v":0},{"r":7,"c":122,"v":0},{"r":7,"c":123,"v":0},{"r":7,"c":124,"v":0},{"r":7,"c":125,"v":0},{"r":7,"c":126,"v":0},{"r":7,"c":127,"v":0},{"r":7,"c":128,"v":0},{"r":7,"c":129,"v":0},
{"r":7,"c":130,"v":0},{"r":7,"c":131,"v":0},{"r":7,"c":132,"v":0},{"r":7,"c":133,"v":0},{"r":7,"c":134,"v":0},{"r":7,"c":135,"v":0},{"r":7,"c":136,"v":0},{"r":7,"c":137,"v":0},{"r":7,"c":138,"v":0},{"r":7,"c":139,"v":0},
{"r":7,"c":140,"v":0},{"r":7,"c":141,"v":0},{"r":7,"c":142,"v":0},{"r":7,"c":143,"v":0},{"r":7,"c":144,"v":0},{"r":7,"c":145,"v":0},{"r":7,"c":146,"v":0},{"r":7,"c":147,"v":0},{"r":7,"c":148,"v":0},{"r":7,"c":149,"v":0},
{"r":7,"c":150,"v":0},{"r":7,"c":151,"v":0},{"r":7,"c":152,"v":0},{"r":7,"c":153,"v":0},{"r":7,"c":154,"v":0},{"r":7,"c":155,"v":0},{"r":7,"c":156,"v":0},{"r":7,"c":157,"v":0},{"r":7,"c":158,"v":0},{"r":7,"c":159,"v":0}
]},
"layer":[
{"mark":{"type":"rect","strokeWidth":0.8},"encoding":{
"x":{"field":"c","type":"ordinal","sort":"ascending","scale":{"paddingInner":0,"paddingOuter":0,"round":false},"axis":{"orient":"bottom","values":[0,20,40,60,80,100,120,140],"labelAngle":0,"labelPadding":31,"zindex":1,"domain":true,"domainColor":"black","domainWidth":4,"ticks":true,"tickColor":"black","tickWidth":1.5,"tickSize":-15}},
"y":{"field":"r","type":"ordinal","sort":"ascending","scale":{"paddingInner":0,"paddingOuter":0,"round":false},"axis":{"orient":"left","labelPadding":29,"labelAlign":"right","labelBaseline":"middle","zindex":1,"domain":true,"domainColor":"black","domainWidth":4,"ticks":true,"tickColor":"black","tickWidth":1.5,"tickSize":-15}},
"color":{"field":"v","type":"nominal","scale":{"domain":[0,1],"range":["#008066","#ffff66"]},"legend":null},
"stroke":{"field":"v","type":"nominal","scale":{"domain":[0,1],"range":["#008066","#ffff66"]},"legend":null}}},
{"mark":{"type":"rect","opacity":0},"encoding":{
"x":{"field":"c","type":"ordinal","sort":"ascending","scale":{"paddingInner":0,"paddingOuter":0,"round":false},"axis":{"orient":"top","values":[0,20,40,60,80,100,120,140],"labels":false,"zindex":1,"domain":true,"domainColor":"black","domainWidth":4,"ticks":true,"tickColor":"black","tickWidth":1.5,"tickSize":-15}},
"y":{"field":"r","type":"ordinal","sort":"ascending","scale":{"paddingInner":0,"paddingOuter":0,"round":false},"axis":{"orient":"right","labels":false,"zindex":1,"domain":true,"domainColor":"black","domainWidth":4,"ticks":true,"tickColor":"black","tickWidth":1.5,"tickSize":-15}}}}
],
"resolve":{"axis":{"x":"independent","y":"independent"}}
}
